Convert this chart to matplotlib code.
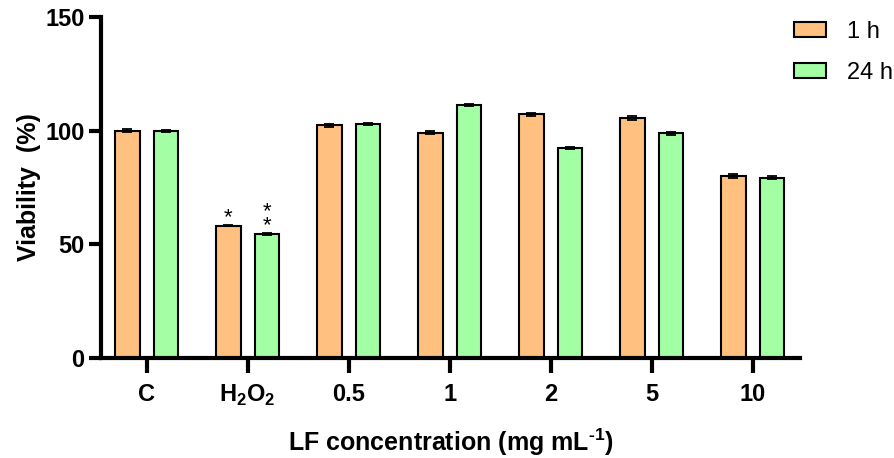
import numpy as np
import matplotlib
matplotlib.use("Agg")
from matplotlib import pyplot as plt

plt.rcParams['font.family'] = ['Liberation Sans', 'DejaVu Sans']
plt.rcParams['mathtext.fontset'] = 'custom'
plt.rcParams['mathtext.rm'] = 'Liberation Sans'
plt.rcParams['mathtext.bf'] = 'Liberation Sans:bold'

# Data
groups = ['C', r'H$_\mathbf{2}$O$_\mathbf{2}$', '0.5', '1', '2', '5', '10']
viab_1h = [100.0, 58.3, 102.3, 99.2, 107.2, 105.6, 80.0]
viab_24h = [100.0, 54.6, 102.8, 111.3, 92.5, 98.8, 79.4]
err_1h = [0.6, 0.3, 0.5, 0.8, 0.6, 0.7, 0.8]
err_24h = [0.4, 0.3, 0.5, 0.5, 0.4, 0.6, 0.5]
series_names = ['1 h', '24 h']
colors = ['#FFC080', '#A3FFA3']

x = np.arange(len(groups))
width = 0.24
offset = 0.19

fig = plt.figure(figsize=(8.95, 4.58), dpi=100)
ax = fig.add_axes([0.113, 0.218, 0.781, 0.745])

ekw = dict(elinewidth=1.3, capsize=3.5, capthick=1.3, ecolor='black')
ax.bar(x - offset, viab_1h, width, color=colors[0], edgecolor='black',
       linewidth=1.5, label=series_names[0], yerr=err_1h, error_kw=ekw, zorder=2)
ax.bar(x + offset, viab_24h, width, color=colors[1], edgecolor='black',
       linewidth=1.5, label=series_names[1], yerr=err_24h, error_kw=ekw, zorder=2)

# significance marks over H2O2
ax.text(1 - offset, 57.0, '*', ha='center', va='bottom', fontsize=16)
ax.text(1 + offset, 53.5, '*\n*', ha='center', va='bottom', fontsize=16,
        linespacing=0.6)

ax.set_xlim(-0.45, 6.47)
ax.set_ylim(0, 150)
ax.set_yticks([0, 50, 100, 150])
ax.set_xticks(x)
ax.set_xticklabels(groups, fontsize=17, fontweight='bold')
for lab in ax.get_yticklabels():
    lab.set_fontsize(17)
    lab.set_fontweight('bold')

for s in ['top', 'right']:
    ax.spines[s].set_visible(False)
for s in ['left', 'bottom']:
    ax.spines[s].set_linewidth(3)
ax.tick_params(axis='y', width=3, length=9, pad=3)
ax.tick_params(axis='x', width=3, length=11, pad=7)

ax.set_ylabel('Viability  (%)', fontsize=18, fontweight='bold', labelpad=3)
ax.set_xlabel('LF concentration (mg mL$^{\\mathbf{\u2010}\\mathbf{1}}$)',
              fontsize=18, fontweight='bold', labelpad=13)

fig.legend(loc='upper left', bbox_to_anchor=(794 / 895, 1 - 21 / 458),
           frameon=False, fontsize=17, handlelength=1.35, handleheight=0.6,
           labelspacing=0.8, handletextpad=0.9, borderpad=0, borderaxespad=0)

fig.savefig('out.png', dpi=100)
